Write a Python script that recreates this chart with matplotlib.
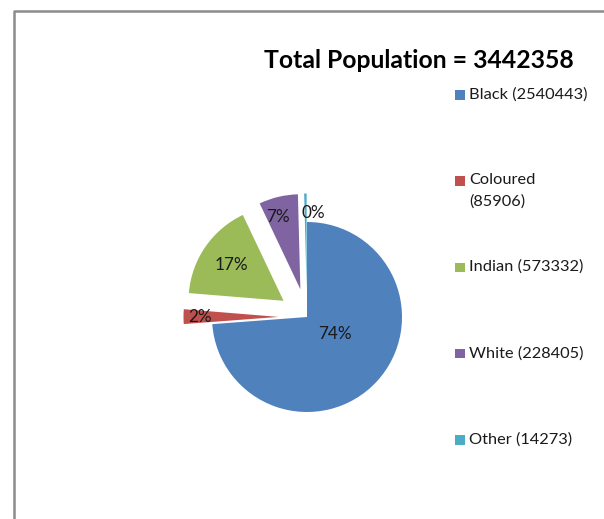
import numpy as np
import matplotlib
matplotlib.use("Agg")
import matplotlib.pyplot as plt
from matplotlib.patches import Rectangle
from matplotlib.lines import Line2D

plt.rcParams['font.family'] = ['Lato', 'DejaVu Sans']

# population by group
groups = ["Black", "Coloured", "Indian", "White", "Other"]
counts = [2540443, 85906, 573332, 228405, 14273]
legend_labels = ["Black (2540443)", "Coloured\n(85906)", "Indian (573332)",
                 "White (228405)", "Other (14273)"]
total = 3442358

colors = ["#4F81BD", "#C0504D", "#9BBB59", "#8064A2", "#4BACC6"]
explode = [0, 0.3, 0.3, 0.3, 0.3]
pct_dist = [0.38, 0.83, 0.67, 0.8, 0.8]

W, H = 604, 519
fig = plt.figure(figsize=(W / 100, H / 100), dpi=100)

# pie centre (307, 317) px, radius 95 px, axes span +-1.4 radius
half = 1.4 * 95
ax = fig.add_axes(((307 - half) / W, (H - 317 - half) / H, 2 * half / W, 2 * half / H))
wedges, texts, autotexts = ax.pie(counts, colors=colors, explode=explode,
                                  startangle=90, counterclock=False,
                                  autopct='%1.0f%%', pctdistance=0.7,
                                  wedgeprops=dict(linewidth=0),
                                  textprops=dict(fontsize=12.3, color='#1a1a1a'))
ax.set_xlim(-1.4, 1.4)
ax.set_ylim(-1.4, 1.4)
ax.set_aspect('equal')
ax.axis('off')

# move each percentage label along its wedge's mid-angle
for w, t, d, e in zip(wedges, autotexts, pct_dist, explode):
    ang = np.deg2rad((w.theta1 + w.theta2) / 2)
    cx, cy = w.center
    t.set_position((cx + d * np.cos(ang), cy + d * np.sin(ang)))
# nudge the big slice label up a bit and the white one left
x0, y0 = autotexts[0].get_position()
autotexts[0].set_position((x0 + 0.02, y0 + 0.08))
x3, y3 = autotexts[3].get_position()
autotexts[3].set_position((x3 - 0.05, y3 - 0.02))
autotexts[-1].set_horizontalalignment('left')
autotexts[-1].set_position((autotexts[-1].get_position()[0] - 0.04,
                            autotexts[-1].get_position()[1]))

fig.text(419 / W, 1 - 61 / H, "Total Population = %d" % total,
         fontsize=17.8, fontweight='bold', ha='center', va='center')

# legend column
for i, (lab, c) in enumerate(zip(legend_labels, colors)):
    y = 95 + i * 86.3
    fig.add_artist(Rectangle((455 / W, 1 - (y + 4.5) / H), 9.5 / W, 9.5 / H,
                             transform=fig.transFigure, facecolor=c,
                             edgecolor='none'))
    fig.text(469 / W, 1 - (y - 8) / H, lab, fontsize=11.8, ha='left',
             va='top', color='#1a1a1a', linespacing=1.6)

# chart frame
fig.add_artist(Line2D([13.5 / W, 13.5 / W, 1.0], [0, 1 - 11 / H, 1 - 11 / H],
                      transform=fig.transFigure, color='#8c8c8c', linewidth=1.8))

fig.savefig("out.png", dpi=100)
